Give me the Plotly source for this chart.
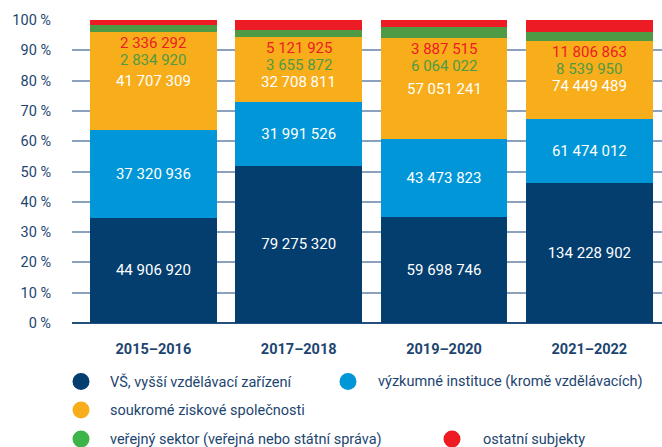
import plotly.graph_objects as go

categories = ["2015–2016", "2017–2018", "2019–2020", "2021–2022"]
series_names = [
    "VŠ, vyšší vzdělávací zařízení",
    "výzkumné instituce (kromě vzdělávacích)",
    "soukromé ziskové společnosti",
    "veřejný sektor (veřejná nebo státní správa)",
    "ostatní subjekty",
]
vs_values = [44906920, 79275320, 59698746, 134228902]
vyzkum_values = [37320936, 31991526, 43473823, 61474012]
soukrome_values = [41707309, 32708811, 57051241, 74449489]
verejny_values = [2834920, 3655872, 6064022, 8539950]
ostatni_values = [2336292, 5121925, 3887515, 11806863]
tick_values = [0, 10, 20, 30, 40, 50, 60, 70, 80, 90, 100]
tick_labels = [f"{v} %" for v in tick_values]

bar_colors = ["#033e6f", "#0096d7", "#f8ad1a", "#4f9b45", "#ed1c24"]
legend_colors = ["#033e6f", "#0096d7", "#f8ad1a", "#3cb44a", "#ed1c24"]
text_dark = "#1d4570"
FONT = "Roboto"
VAL_SIZE = 15

W, H = 662, 447
M_L, M_R, M_T, M_B = 72, 0, 20, 124
plot_h = H - M_T - M_B
plot_w = W - M_L - M_R
px_per_pct = plot_h / 100.0


def fmt(v):
    return f"{v:,}".replace(",", " ")


all_series = [vs_values, vyzkum_values, soukrome_values, verejny_values, ostatni_values]
totals = [sum(s[i] for s in all_series) for i in range(len(categories))]

fig = go.Figure()
for k, (name, vals) in enumerate(zip(series_names, all_series)):
    pct = [v / t * 100 for v, t in zip(vals, totals)]
    fig.add_trace(go.Bar(
        x=categories, y=pct, name=name,
        marker=dict(color=bar_colors[k], line=dict(width=0)),
        text=[fmt(v) for v in vals] if k < 2 else None,
        textposition="inside" if k < 2 else "none",
        insidetextanchor="middle",
        textfont=dict(family=FONT, size=VAL_SIZE, color="white"),
        hoverinfo="name+text",
        showlegend=False,
    ))

annotations = []
for i, cat in enumerate(categories):
    base = (vs_values[i] + vyzkum_values[i]) / totals[i] * 100
    top = base + soukrome_values[i] / totals[i] * 100
    center = (base + top) / 2
    orange_y = min(center, top - 45 / px_per_pct)
    annotations.append(dict(x=cat, y=top, xref="x", yref="y", text=fmt(ostatni_values[i]),
                            showarrow=False, yshift=-11, yanchor="middle",
                            font=dict(family=FONT, size=VAL_SIZE, color="#ed1c24")))
    annotations.append(dict(x=cat, y=top, xref="x", yref="y", text=fmt(verejny_values[i]),
                            showarrow=False, yshift=-28, yanchor="middle",
                            font=dict(family=FONT, size=VAL_SIZE, color="#4f9b45")))
    annotations.append(dict(x=cat, y=orange_y, xref="x", yref="y", text=fmt(soukrome_values[i]),
                            showarrow=False, yanchor="middle",
                            font=dict(family=FONT, size=VAL_SIZE, color="white")))


def px_to_paper_x(px):
    return (px - M_L) / plot_w


def px_to_paper_y(py):
    return (H - M_B - py) / plot_h


legend_items = [
    (0, 81, 381.5, 108),
    (1, 348, 381.5, 376),
    (2, 81, 410, 108),
    (3, 81, 439, 108),
    (4, 452, 439, 481),
]
shapes = []
for k, mx, my, tx in legend_items:
    shapes.append(dict(type="circle", xref="paper", yref="paper",
                       xsizemode="pixel", ysizemode="pixel",
                       xanchor=px_to_paper_x(mx), yanchor=px_to_paper_y(my),
                       x0=-8.5, x1=8.5, y0=-8.5, y1=8.5,
                       fillcolor=legend_colors[k], line=dict(width=0)))
    annotations.append(dict(x=px_to_paper_x(tx), y=px_to_paper_y(my), xref="paper", yref="paper",
                            text=series_names[k], showarrow=False, xanchor="left", yanchor="middle",
                            font=dict(family=FONT, size=14.5, color=text_dark)))

fig.update_layout(
    barmode="stack",
    bargap=0.127,
    width=W, height=H,
    margin=dict(l=M_L, r=M_R, t=M_T, b=M_B, autoexpand=False),
    plot_bgcolor="white", paper_bgcolor="white",
    font=dict(family=FONT, size=14, color=text_dark),
    xaxis=dict(range=[-0.56, 3.5], showgrid=False, showline=False, zeroline=False,
               ticks="", ticklabelstandoff=15,
               tickfont=dict(family=FONT, size=14.5, color=text_dark, weight="bold")),
    yaxis=dict(range=[0, 100], tickmode="array", tickvals=tick_values, ticktext=tick_labels,
               showgrid=True, gridcolor="#8aa2bd", gridwidth=2,
               zeroline=True, zerolinecolor="#24507f", zerolinewidth=2,
               showline=False, ticks="", ticklabelstandoff=20,
               tickfont=dict(family=FONT, size=14.5, color=text_dark)),
    annotations=annotations,
    shapes=shapes,
)

fig.write_html("out.html", config={"displayModeBar": False},
               post_script="document.body.style.margin='0';")
